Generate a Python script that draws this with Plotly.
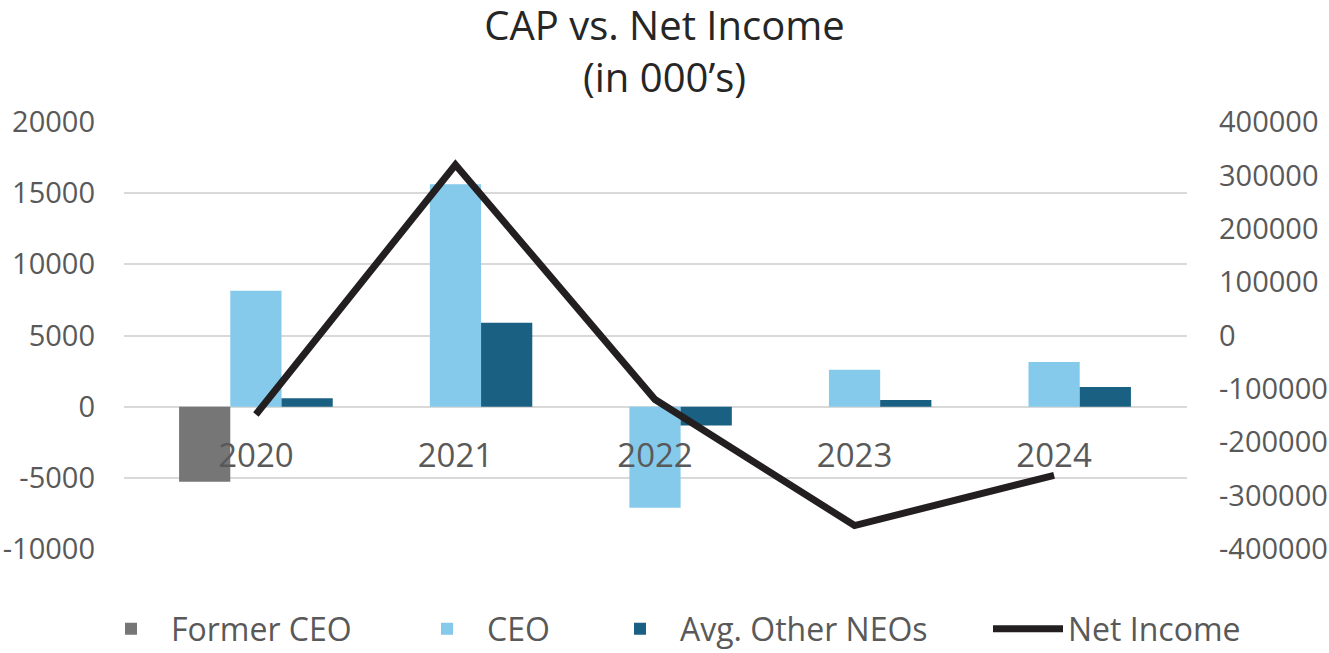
import plotly.graph_objects as go

years = ["2020", "2021", "2022", "2023", "2024"]
former_ceo = [-5280, None, None, None, None]
ceo = [8140, 15630, -7110, 2600, 3140]
avg_other_neos = [600, 5890, -1330, 470, 1380]
net_income = [-148000, 320000, -120000, -356000, -262000]

left_ticks = [-10000, -5000, 0, 5000, 10000, 15000, 20000]
right_ticks = [-400000, -300000, -200000, -100000, 0, 100000, 200000, 300000, 400000]

FONT = "Open Sans"
TICK = "#595959"

L, R, T, B = 124, 142, 122, 104
W, H = 1329, 653
PW, PH = W - L - R, H - T - B


def px_x(px):
    return (px - L) / PW


def px_y(py):
    return (H - B - py) / PH


fig = go.Figure()
fig.add_trace(go.Bar(name="Former CEO", x=years, y=former_ceo, marker_color="#767676",
                     marker_line_width=0, legend="legend"))
fig.add_trace(go.Bar(name="CEO", x=years, y=ceo, marker_color="#85CAEB",
                     marker_line_width=0, legend="legend2"))
fig.add_trace(go.Bar(name="Avg. Other NEOs", x=years, y=avg_other_neos, marker_color="#196082",
                     marker_line_width=0, legend="legend3"))
fig.add_trace(go.Scatter(name="Net Income", x=years, y=net_income, yaxis="y2", mode="lines",
                         line=dict(color="#231F20", width=7), legend="legend4"))

IW = 70
text_starts = [171, 487, 680, 1068]


def leg(tx):
    return dict(orientation="h", x=px_x(tx - IW - 10), xanchor="left",
                y=px_y(629), yanchor="middle", font=dict(size=32, color=TICK),
                itemwidth=IW, bgcolor="rgba(0,0,0,0)", borderwidth=0)


fig.update_layout(
    width=W, height=H,
    paper_bgcolor="white", plot_bgcolor="white",
    margin=dict(l=L, r=R, t=T, b=B, autoexpand=False),
    barmode="group", bargap=0.23, bargroupgap=0,
    font=dict(family=FONT, color=TICK),
    title=dict(text="CAP vs. Net Income<br>(in 000’s)", x=0.5, xanchor="center",
               y=1 - 40 / H, yanchor="middle", yref="container",
               font=dict(family=FONT, size=40, color="#262626")),
    xaxis=dict(type="category", range=[-0.661, 4.666], anchor="free", position=1/3,
               showgrid=False, showline=False, zeroline=False, ticks="",
               tickfont=dict(size=33, color=TICK), ticklabelstandoff=26, automargin=False),
    yaxis=dict(range=[-10000, 20000], tickvals=left_ticks,
               ticktext=[str(v) for v in left_ticks], showgrid=True,
               gridcolor="#D9D9D9", gridwidth=2, zeroline=False, showline=False,
               ticks="", tickfont=dict(size=29, color=TICK), ticklabelstandoff=28,
               automargin=False),
    yaxis2=dict(range=[-400000, 400000], tickvals=right_ticks,
                ticktext=[str(v) for v in right_ticks], overlaying="y", side="right",
                showgrid=False, zeroline=False, showline=False, ticks="",
                tickfont=dict(size=29, color=TICK), ticklabelstandoff=31, automargin=False),
    legend=leg(text_starts[0]),
    legend2=leg(text_starts[1]),
    legend3=leg(text_starts[2]),
    legend4=leg(text_starts[3]),
    showlegend=True,
)

fig.write_html("out.html", config={"displayModeBar": False},
               post_script="document.body.style.margin='0';")
